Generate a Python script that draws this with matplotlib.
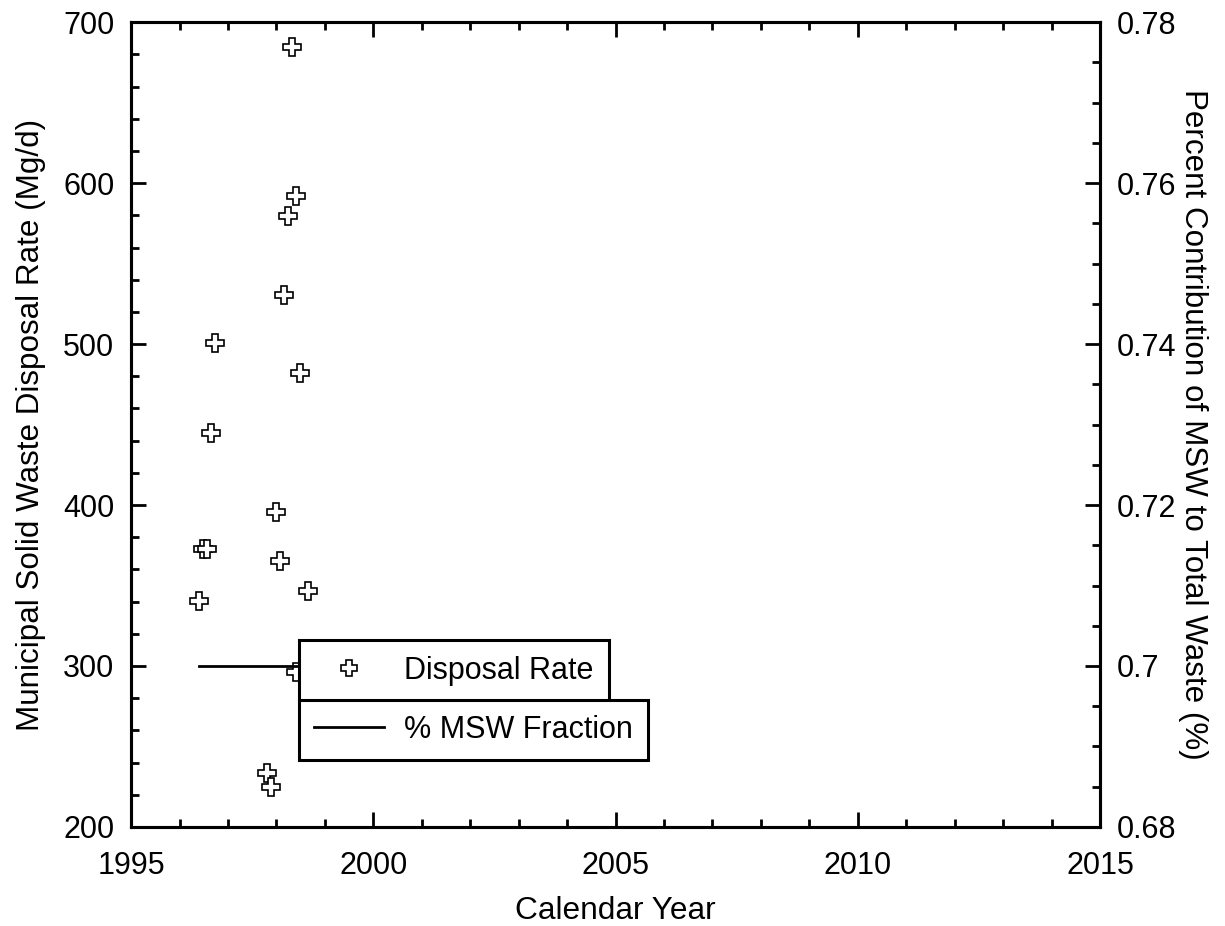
import matplotlib
matplotlib.use("Agg")
import matplotlib.pyplot as plt
from matplotlib.ticker import MultipleLocator, FuncFormatter

plt.rcParams["font.family"] = ["Liberation Sans", "DejaVu Sans"]
plt.rcParams["font.size"] = 22

# disposal rate points (year, Mg/d)
years = [1998.32, 1998.41, 1998.24, 1998.16, 1996.73, 1998.49, 1996.65,
         1997.99, 1996.49, 1996.57, 1998.08, 1998.65, 1996.40, 1997.81,
         1997.89, 1998.40]
rate = [684.5, 592, 579.5, 530.5, 500.5, 482, 444.5,
        395.5, 372.5, 372.5, 365, 346.5, 340.5, 233.5,
        225, 296]

# MSW fraction line
frac_years = [1996.40, 1998.50]
frac = [0.70, 0.70]

fig = plt.figure(figsize=(12.25, 9.26), dpi=100)
ax = fig.add_axes([0.107, 0.107, 0.791, 0.869])
ax2 = ax.twinx()

ax.plot(years, rate, linestyle="none", marker="P", markersize=13,
        markerfacecolor="white", markeredgecolor="black",
        markeredgewidth=1.2, label="Disposal Rate")
ax2.plot(frac_years, frac, color="black", linewidth=2,
         label="% MSW Fraction")

ax.set_xlim(1995, 2015)
ax.set_ylim(200, 700)
ax2.set_ylim(0.68, 0.78)

ax.xaxis.set_major_locator(MultipleLocator(5))
ax.xaxis.set_minor_locator(MultipleLocator(1))
ax.yaxis.set_major_locator(MultipleLocator(100))
ax.yaxis.set_minor_locator(MultipleLocator(20))
ax2.yaxis.set_major_locator(MultipleLocator(0.02))
ax2.yaxis.set_minor_locator(MultipleLocator(0.005))
ax2.yaxis.set_major_formatter(FuncFormatter(lambda v, p: "%g" % round(v, 3)))

ax.tick_params(axis="x", which="both", direction="in", top=True, bottom=True)
ax.tick_params(axis="y", which="both", direction="in", left=True, right=False)
ax2.tick_params(axis="y", which="both", direction="in", right=True)
for a in (ax, ax2):
    a.tick_params(which="major", length=11, width=2, labelsize=22, pad=12)
    a.tick_params(which="minor", length=6, width=2)
    for s in a.spines.values():
        s.set_linewidth(2.2)
ax.tick_params(axis="x", pad=17)

ax.set_xlabel("Calendar Year", fontsize=22.8, labelpad=11)
ax.set_ylabel("Municipal Solid Waste Disposal Rate (Mg/d)", fontsize=22.6,
              labelpad=12)
ax2.set_ylabel("Percent Contribution of MSW to Total Waste (%)", fontsize=22.6,
               rotation=270, labelpad=23)

h1, l1 = ax.get_legend_handles_labels()
h2, l2 = ax2.get_legend_handles_labels()
leg_kw = dict(frameon=True, fancybox=False, framealpha=1, edgecolor="black",
              fontsize=22, handlelength=2.3, borderaxespad=0, borderpad=0.5,
              handletextpad=0.65)
leg1 = ax2.legend(h1, l1, loc="upper left", bbox_to_anchor=(0.173, 0.232),
                  markerscale=0.85, **leg_kw)
leg1.get_frame().set_linewidth(2.2)
ax2.add_artist(leg1)
leg2 = ax2.legend(h2, l2, loc="upper left", bbox_to_anchor=(0.173, 0.158),
                  **leg_kw)
leg2.get_frame().set_linewidth(2.2)

fig.savefig("out.png", dpi=100)
